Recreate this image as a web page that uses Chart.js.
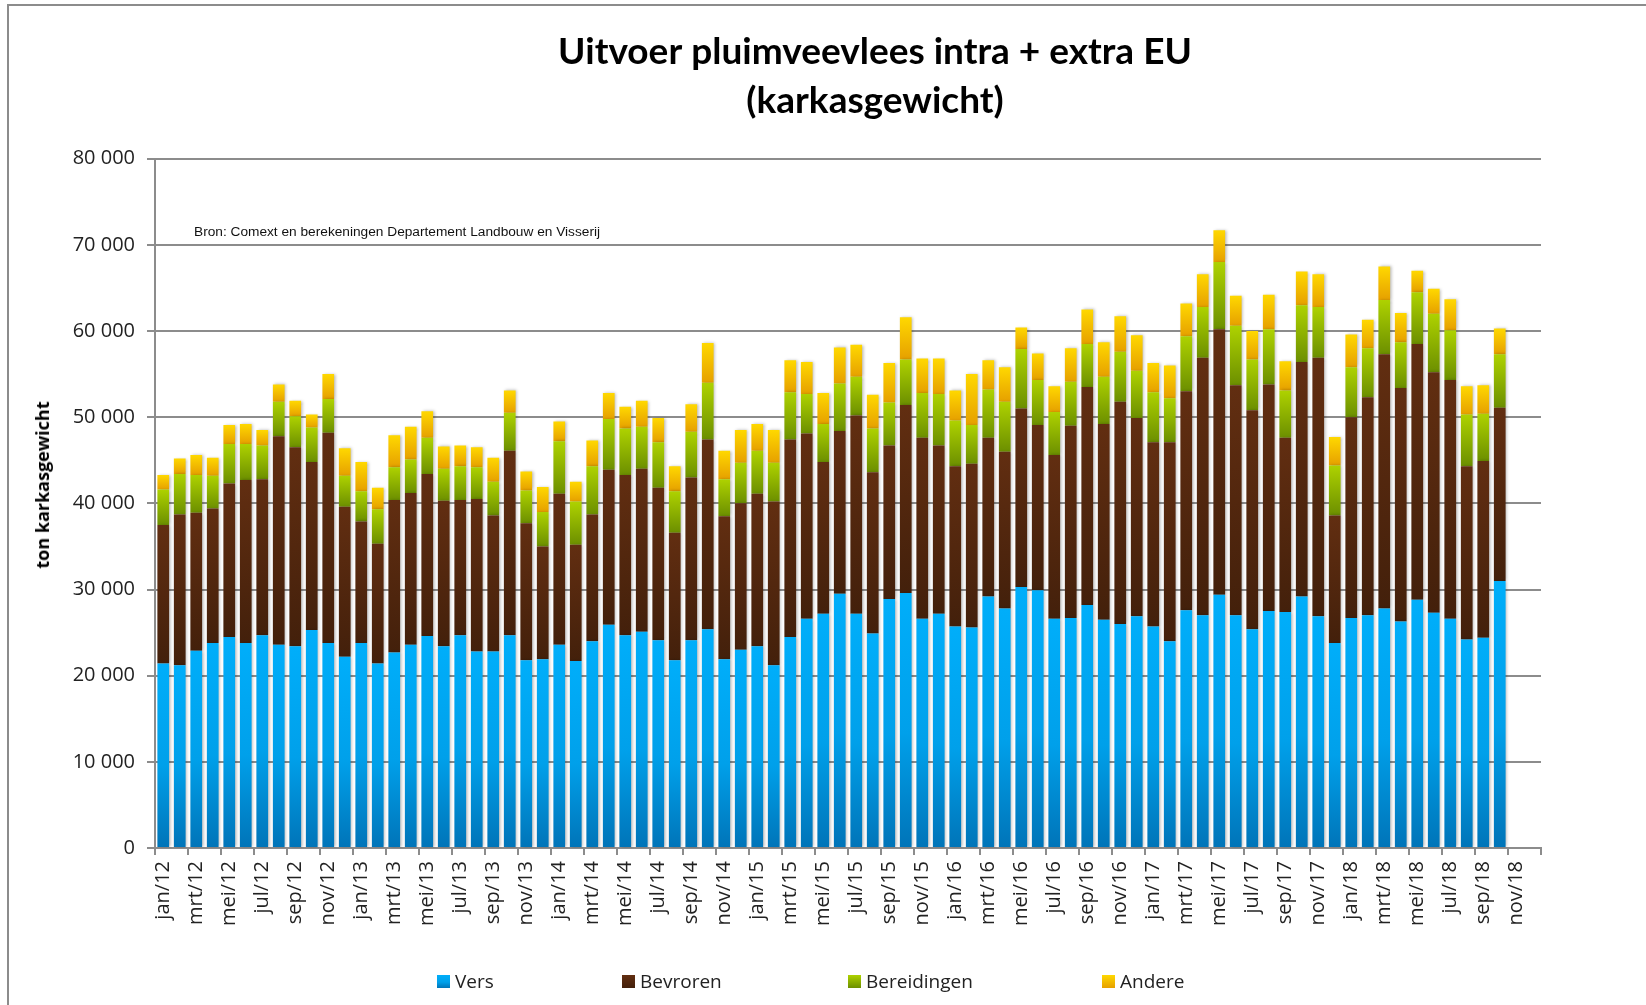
<!DOCTYPE html>
<html>
<head>
<meta charset="utf-8">
<script src="https://cdn.jsdelivr.net/npm/chart.js@4.4.1/dist/chart.umd.min.js"></script>
<style>
html, body { margin: 0; padding: 0; background: #fff; overflow: hidden; width: 1646px; height: 1005px; }
#frame { position: absolute; left: 7px; top: 4px; width: 3000px; height: 3000px; border-top: 2px solid #8c8c8c; border-left: 2px solid #8c8c8c; }
#c { position: absolute; left: 0; top: 0; }
#ytitle { position: absolute; left: 42px; top: 485px; transform: translate(-50%, -50%) rotate(-90deg); white-space: nowrap;
  font-family: 'Open Sans', sans-serif; font-weight: bold; font-size: 18px; color: #000; }
#source { position: absolute; left: 194px; top: 224px; white-space: nowrap; font-family: 'Liberation Sans', Arial, sans-serif; font-size: 13.7px; line-height: 16px; color: #111; }
.lg { position: absolute; top: 968px; height: 26px; display: flex; align-items: center; white-space: nowrap;
  font-family: 'Open Sans', sans-serif; font-size: 19px; color: #222; }
.lg i { display: inline-block; width: 13px; height: 13px; margin-right: 5px; }
</style>
</head>
<body>
<div id="frame"></div>
<canvas id="c" width="1750" height="1005"></canvas>
<div id="ytitle">ton karkasgewicht</div>
<div id="source">Bron: Comext en berekeningen Departement Landbouw en Visserij</div>
<div id="legendBox"></div>
<script>
// ---------- DATA ----------
const categories = [
  'jan/12','feb/12','mrt/12','apr/12','mei/12','jun/12','jul/12','aug/12','sep/12','okt/12','nov/12','dec/12',
  'jan/13','feb/13','mrt/13','apr/13','mei/13','jun/13','jul/13','aug/13','sep/13','okt/13','nov/13','dec/13',
  'jan/14','feb/14','mrt/14','apr/14','mei/14','jun/14','jul/14','aug/14','sep/14','okt/14','nov/14','dec/14',
  'jan/15','feb/15','mrt/15','apr/15','mei/15','jun/15','jul/15','aug/15','sep/15','okt/15','nov/15','dec/15',
  'jan/16','feb/16','mrt/16','apr/16','mei/16','jun/16','jul/16','aug/16','sep/16','okt/16','nov/16','dec/16',
  'jan/17','feb/17','mrt/17','apr/17','mei/17','jun/17','jul/17','aug/17','sep/17','okt/17','nov/17','dec/17',
  'jan/18','feb/18','mrt/18','apr/18','mei/18','jun/18','jul/18','aug/18','sep/18','okt/18','nov/18','dec/18'
];

const vers = [
  21400,21200,22900,23800,24500,23800,24700,23600,23400,25300,23800,22200,
  23800,21400,22700,23600,24600,23400,24700,22800,22800,24700,21800,21900,
  23600,21700,24000,25900,24700,25100,24100,21800,24100,25400,21900,23000,
  23400,21200,24500,26600,27200,29500,27200,24900,28900,29600,26600,27200,
  25700,25600,29200,27800,30300,29900,26600,26700,28200,26500,26000,26900,
  25700,24000,27600,27000,29400,27000,25400,27500,27400,29200,26900,23800,
  26700,27000,27800,26300,28800,27300,26600,24200,24400,31000
];
const bevroren = [
  16100,17500,16000,15600,17800,18900,18100,24200,23100,19500,24400,17400,
  14100,13900,17700,17600,18800,16900,15700,17700,15800,21400,15900,13100,
  17500,13500,14700,18000,18600,18900,17700,14800,18900,22000,16600,17000,
  17700,19000,22900,21500,17600,18900,23000,18700,17800,21800,21000,19500,
  18600,19000,18400,18200,20700,19200,19000,22300,25300,22700,25800,23000,
  21400,23100,25400,29900,30800,26700,25400,26300,20200,27200,30000,14800,
  23300,25300,29500,27100,29700,27900,27700,20100,20500,20100
];
const bereidingen = [
  4100,4700,4400,3800,4600,4200,3900,4000,3600,4000,3900,3600,
  3500,4000,3800,3900,4200,3700,3900,3700,3900,4400,3800,4000,
  6100,5000,5600,5900,5400,4900,5300,4800,5300,6600,4300,4700,
  5000,4500,5500,4600,4400,5500,4500,5100,5000,5300,5200,6000,
  5300,4500,5600,5800,6900,5200,5000,5100,5000,5500,5800,5500,
  5800,5100,6400,5900,7800,6900,5900,6400,5500,6600,5900,5800,
  5800,5700,6300,5300,6000,6800,5800,6000,5500,6200
];
const andere = [
  1700,1800,2300,2100,2200,2300,1800,2000,1800,1500,2900,3200,
  3400,2500,3700,3800,3100,2600,2400,2300,2800,2600,2200,2900,
  2300,2300,3000,3000,2500,3000,2800,2900,3200,4600,3300,3800,
  3100,3800,3700,3700,3600,4200,3700,3900,4600,4900,4000,4100,
  3500,5900,3400,4000,2500,3100,3000,3900,4000,4000,4100,4100,
  3400,3800,3800,3800,3700,3500,3300,4000,3400,3900,3800,3300,
  3800,3300,3900,3400,2500,2900,3600,3300,3300,3000
];
const seriesNames = ['Vers', 'Bevroren', 'Bereidingen', 'Andere'];
const yTicks = [0, 10000, 20000, 30000, 40000, 50000, 60000, 70000, 80000];
const titleLines = ['Uitvoer pluimveevlees intra + extra EU', '(karkasgewicht)'];

// ---------- STYLE ----------
const seriesData = [vers, bevroren, bereidingen, andere];
const gradStops = [
  [[0, '#00AEFA'], [0.55, '#00A0EA'], [1, '#0074B8']],
  [[0, '#622E11'], [1, '#43200B']],
  [[0, '#AED200'], [1, '#6C8F00']],
  [[0, '#FFD800'], [1, '#E6A000']]
];
const flatColors = ['#009FE8', '#552810', '#92B800', '#F5C000'];
const gridColor = '#8c8c8c';

function segmentFill(k) {
  return (ctx) => {
    if (ctx.type !== 'data') return flatColors[k];
    const ch = ctx.chart, y = ch.scales.y, i = ctx.dataIndex;
    if (!y || !ch.chartArea) return flatColors[k];
    let base = 0;
    for (let j = 0; j < k; j++) base += seriesData[j][i] || 0;
    const top = base + (seriesData[k][i] || 0);
    const g = ch.ctx.createLinearGradient(0, y.getPixelForValue(top), 0, y.getPixelForValue(base));
    gradStops[k].forEach(([o, c]) => g.addColorStop(o, c));
    return g;
  };
}

const shadowPlugin = {
  id: 'barShadow',
  beforeDatasetsDraw(chart) {
    const c = chart.ctx;
    c.save();
    c.shadowColor = 'rgba(0,0,0,0.28)';
    c.shadowBlur = 3;
    c.shadowOffsetX = 1.5;
    c.shadowOffsetY = 0;
  },
  afterDatasetsDraw(chart) { chart.ctx.restore(); }
};

const fmt = v => String(v).replace(/\B(?=(\d{3})+(?!\d))/g, ' ');

new Chart(document.getElementById('c'), {
  type: 'bar',
  data: {
    labels: categories,
    datasets: seriesNames.map((name, k) => ({
      label: name,
      data: seriesData[k],
      backgroundColor: segmentFill(k),
      borderWidth: 0,
      categoryPercentage: 1,
      barPercentage: 0.71,
      stack: 's'
    }))
  },
  options: {
    responsive: false,
    animation: false,
    devicePixelRatio: 1,
    layout: { padding: { left: 0, right: 0, top: 0, bottom: 60 } },
    plugins: {
      legend: { display: false },
      tooltip: { enabled: false },
      title: {
        display: true,
        text: titleLines,
        color: '#000',
        font: { family: 'Lato', size: 37, weight: 'bold', lineHeight: 1.32 },
        padding: { top: 28, bottom: 33 }
      }
    },
    scales: {
      x: {
        stacked: true,
        offset: true,
        grid: {
          offset: true,
          drawOnChartArea: false,
          drawTicks: true,
          tickLength: 7,
          lineWidth: 2,
          color: ctx => (ctx.type === 'tick' && ctx.index % 2 === 1) ? 'rgba(0,0,0,0)' : gridColor
        },
        border: { display: true, color: gridColor, width: 2 },
        ticks: {
          autoSkip: false,
          minRotation: 90,
          maxRotation: 90,
          padding: 6,
          color: '#222',
          font: { family: 'Open Sans', size: 20 },
          callback: (v, i) => (i % 2 === 0 ? categories[i] : '')
        },
        afterFit: s => { s.height = 97; }
      },
      y: {
        stacked: true,
        min: yTicks[0],
        max: yTicks[yTicks.length - 1],
        afterBuildTicks: s => { s.ticks = yTicks.map(v => ({ value: v })); },
        grid: { color: gridColor, lineWidth: 2, tickLength: 8, drawTicks: true },
        border: { display: true, color: gridColor, width: 2 },
        ticks: {
          padding: 12,
          color: '#222',
          font: { family: 'Open Sans', size: 20 },
          callback: v => fmt(v)
        },
        afterFit: s => { s.width = 155; }
      },
      spacer: {
        type: 'linear',
        position: 'right',
        display: true,
        min: 0,
        max: 1,
        grid: { display: false },
        border: { display: false },
        ticks: { display: false },
        afterFit: s => { s.width = 209; }
      }
    }
  },
  plugins: [shadowPlugin]
});

// ---------- HTML legend ----------
const legendLeft = [437, 622, 848, 1102];
const legendBox = document.getElementById('legendBox');
seriesNames.forEach((name, k) => {
  const d = document.createElement('div');
  d.className = 'lg';
  d.style.left = legendLeft[k] + 'px';
  const sw = document.createElement('i');
  sw.style.background = 'linear-gradient(' + gradStops[k].map(([o, c]) => c + ' ' + (o * 100) + '%').join(',') + ')';
  d.appendChild(sw);
  d.appendChild(document.createTextNode(name));
  legendBox.appendChild(d);
});
</script>
</body>
</html>
